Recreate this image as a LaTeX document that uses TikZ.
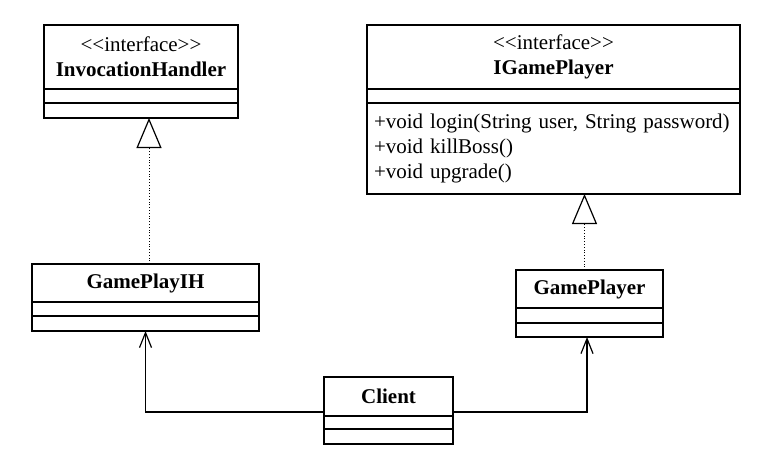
\documentclass[tikz,border=0pt]{standalone}
\usepackage{fontspec}
\setmainfont{Liberation Serif}
\usetikzlibrary{arrows.meta}

\begin{document}
\begin{tikzpicture}[x=1pt, y=-1pt,
  every node/.style={font=\fontsize{21}{25}\selectfont},
  box/.style={draw, line width=1.3pt, inner sep=0pt, outer sep=0pt, anchor=north west},
  realize/.style={dotted, line width=0.8pt, -{Triangle[open, length=30pt, width=25pt, line width=1.2pt]}},
  assoc/.style={line width=1.3pt, -{Straight Barb[length=15pt, width=12pt, line width=1.2pt]}}]
\path[use as bounding box, fill=white] (0,0) rectangle (780,455);

\node[box, minimum width=194pt, minimum height=64pt, align=center] (ih) at (44,25) {<\kern0pt<interface>\kern0pt>\\\textbf{InvocationHandler}};
\node[box, minimum width=194pt, minimum height=14pt] (ih1) at (ih.south west) {};
\node[box, minimum width=194pt, minimum height=15pt] (ih2) at (ih1.south west) {};

\node[box, minimum width=373pt, minimum height=64pt, align=center] (igp) at (367,25) {<\kern0pt<interface>\kern0pt>\\\textbf{IGamePlayer}};
\node[box, minimum width=373pt, minimum height=14pt] (igp1) at (igp.south west) {};
\node[box, minimum height=91pt, inner xsep=7pt, text width=359pt, align=left] (igp2) at (igp1.south west) {+void login(String user, String password)\\+void killBoss()\\+void upgrade()};

\node[box, minimum width=227pt, minimum height=38pt] (gpih) at (32,264) {\textbf{GamePlayIH}};
\node[box, minimum width=227pt, minimum height=14pt] (gpih1) at (gpih.south west) {};
\node[box, minimum width=227pt, minimum height=15pt] (gpih2) at (gpih1.south west) {};

\node[box, minimum width=147pt, minimum height=38pt] (gp) at (516,270) {\textbf{GamePlayer}};
\node[box, minimum width=147pt, minimum height=15pt] (gp1) at (gp.south west) {};
\node[box, minimum width=147pt, minimum height=14pt] (gp2) at (gp1.south west) {};

\node[box, minimum width=129pt, minimum height=39pt] (cl) at (324,377) {\textbf{Client}};
\node[box, minimum width=129pt, minimum height=13pt] (cl1) at (cl.south west) {};
\node[box, minimum width=129pt, minimum height=15pt] (cl2) at (cl1.south west) {};

\coordinate (ihfoot) at ([xshift=3.5pt]gpih.north);
\coordinate (gpfoot) at ([xshift=-5pt]gp.north);
\draw[realize] (ihfoot) -- (ihfoot |- ih2.south);
\draw[realize] (gpfoot) -- (gpfoot |- igp2.south);

\draw[assoc] ([yshift=4pt]cl.south west) -| (gpih2.south);
\draw[assoc] ([yshift=4pt]cl.south east) -| ([xshift=-2.5pt]gp2.south);
\end{tikzpicture}
\end{document}
